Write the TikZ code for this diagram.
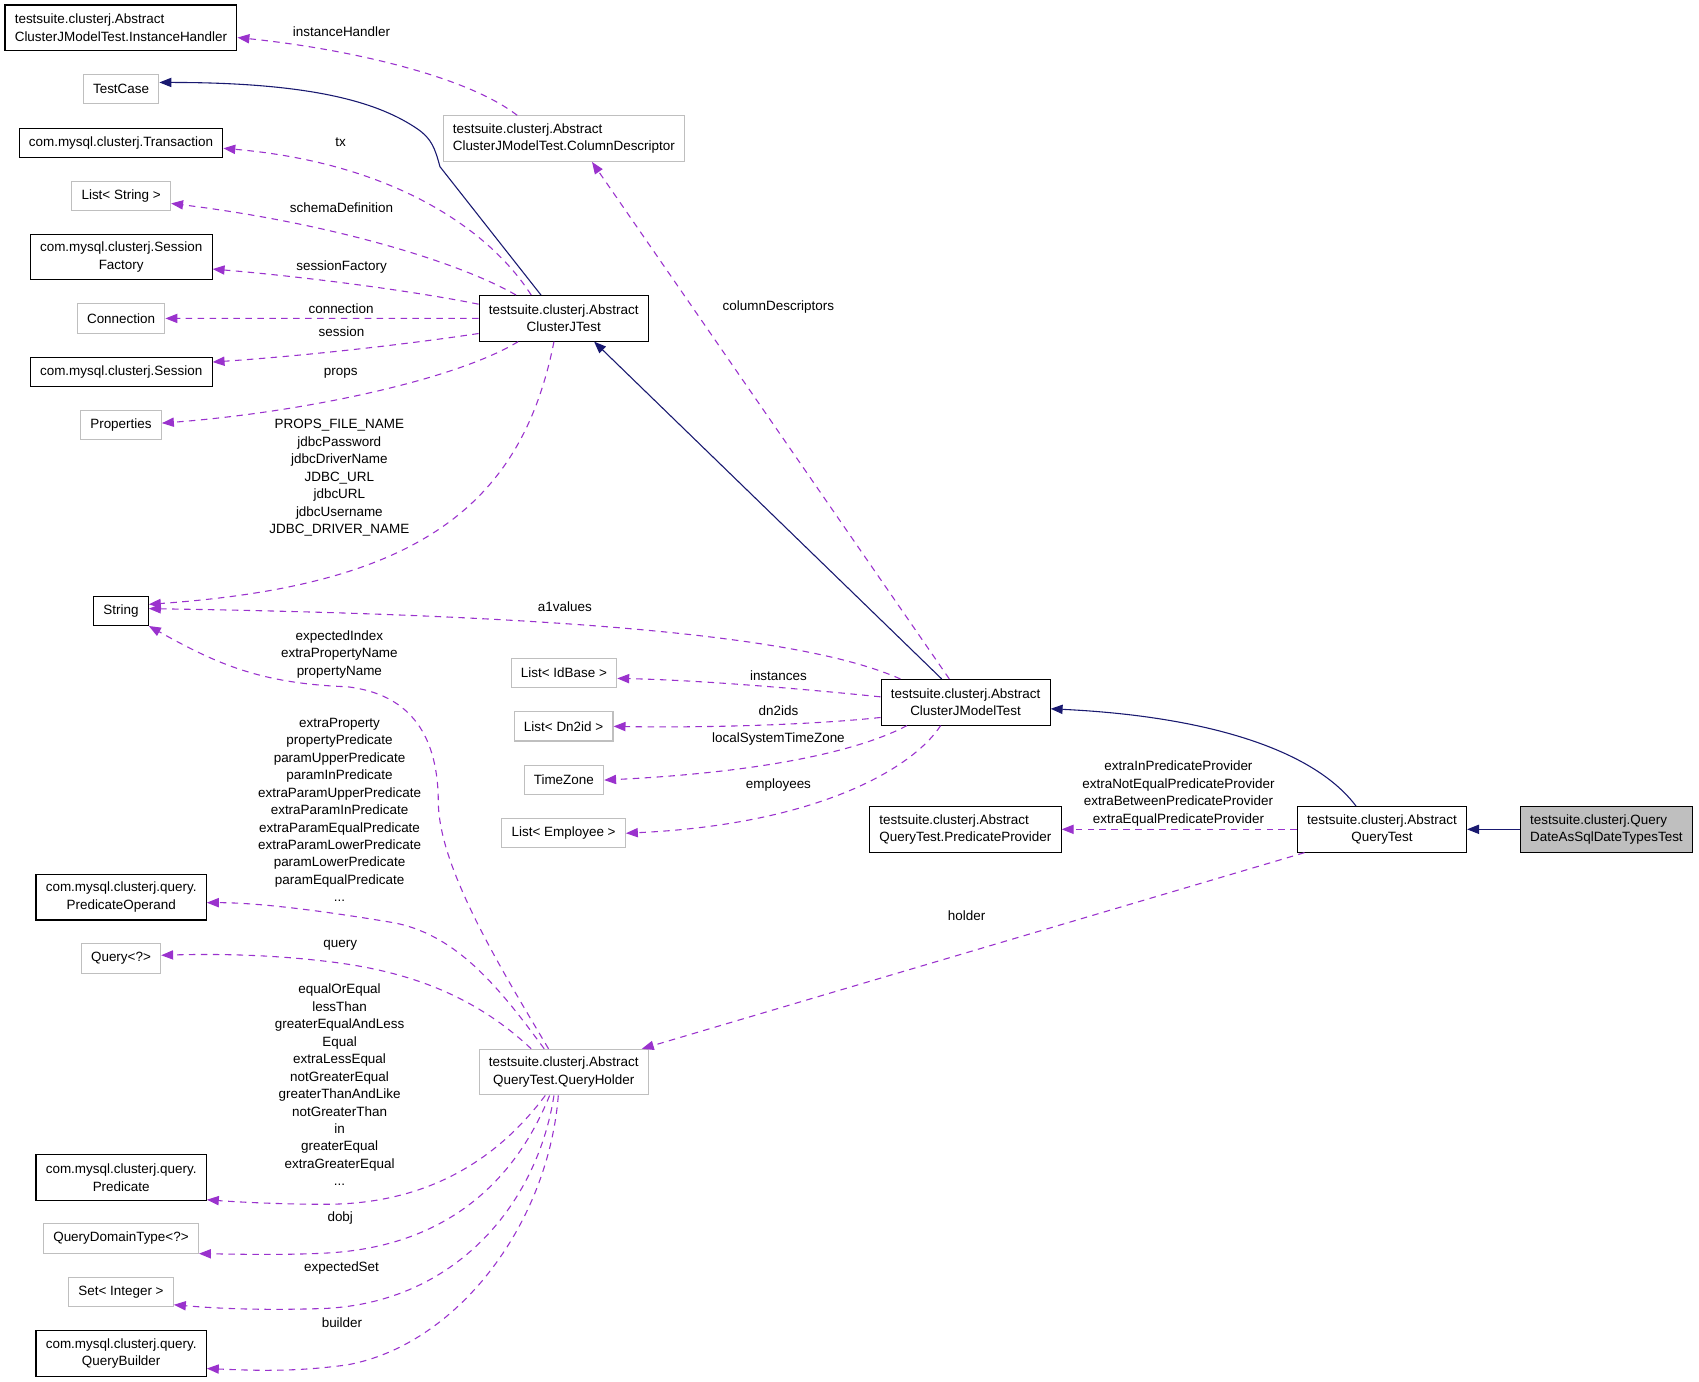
\documentclass[tikz,border=0pt]{standalone}
\usepackage{fontspec}
\setmainfont{Liberation Sans}
\usetikzlibrary{arrows.meta,calc,positioning}

\definecolor{inhblue}{HTML}{191970}
\definecolor{usepurple}{HTML}{9A32CD}
\definecolor{extgray}{HTML}{BFBFBF}

\tikzset{
  cls/.style={draw=black, line width=1pt, inner xsep=9pt, inner ysep=7pt,
    minimum height=27pt, align=center, font=\fontsize{12.4}{16.1}\selectfont},
  tall/.style={minimum height=42pt},
  extcls/.style={cls, draw=extgray},
  maincls/.style={cls, fill=extgray},
  inherit/.style={inhblue, line width=1pt, -{Triangle[length=11pt,width=8.5pt]}},
  usage/.style={usepurple, line width=1pt, dash pattern=on 6pt off 5pt,
    -{Triangle[length=11pt,width=8.5pt]}},
  lbl/.style={inner sep=0pt, align=center, font=\fontsize{12.4}{16.1}\selectfont},
}

\begin{document}
\begin{tikzpicture}[x=1pt, y=-1pt]
\useasboundingbox (0,0) rectangle (1566,1273);

% Class and its bases
\node[maincls, tall, align=left] (main) at (1480.7,764.4) {testsuite.clusterj.Query\\DateAsSqlDateTypesTest};
\node[cls, tall] (querytest) at (1273.8,764.4) {testsuite.clusterj.Abstract\\QueryTest};
\node[cls, tall] (modeltest) at (890,647.3) {testsuite.clusterj.Abstract\\ClusterJModelTest};
\node[cls, tall] (cjtest) at (519.6,293.4) {testsuite.clusterj.Abstract\\ClusterJTest};

% Nested classes
\node[cls, tall, align=left] (provider) at (889.8,764.4) {testsuite.clusterj.Abstract\\QueryTest.PredicateProvider};
\node[extcls, tall] (holder) at (519.6,988.2) {testsuite.clusterj.Abstract\\QueryTest.QueryHolder};
\node[extcls, tall, align=left] (coldesc) at (519.7,127.8) {testsuite.clusterj.Abstract\\ClusterJModelTest.ColumnDescriptor};

% Middle column
\node[extcls] (listidbase) at (519.8,620.3) {List< IdBase >};
\node[extcls] (listdn2id) at (519.5,669.5) {List< Dn2id >};
\node[extcls] (timezone) at (519.7,719) {TimeZone};
\node[extcls] (listemployee) at (519.5,768) {List< Employee >};

% Left column
\node[cls, tall, align=left] (insthandler) at (111.5,25.6) {testsuite.clusterj.Abstract\\ClusterJModelTest.InstanceHandler};
\node[extcls] (testcase) at (111.6,82) {TestCase};
\node[cls] (transaction) at (111.5,131.7) {com.mysql.clusterj.Transaction};
\node[extcls] (liststring) at (111.7,180.5) {List< String >};
\node[cls, tall] (sessfactory) at (111.7,237) {com.mysql.clusterj.Session\\Factory};
\node[extcls] (connection) at (111.6,293.5) {Connection};
\node[cls] (session) at (111.7,342.7) {com.mysql.clusterj.Session};
\node[extcls] (properties) at (111.5,392) {Properties};
\node[cls] (string) at (111.5,563) {String};
\node[cls, tall] (predoperand) at (111.7,827) {com.mysql.clusterj.query.\\PredicateOperand};
\node[extcls] (query) at (111.5,883.5) {Query<?>};
\node[cls, tall] (predicate) at (111.7,1085.3) {com.mysql.clusterj.query.\\Predicate};
\node[extcls] (qdt) at (111.5,1141.5) {QueryDomainType<?>};
\node[extcls] (setint) at (111.5,1190.6) {Set< Integer >};
\node[cls, tall] (builder) at (111.7,1247.4) {com.mysql.clusterj.query.\\QueryBuilder};

% Inheritance
\draw[inherit] (main.west) -- (querytest.east);
\draw[inherit] ([xshift=-24pt]querytest.north) .. controls (1210,690) and (1110,660) .. ([yshift=-6pt]modeltest.east);
\draw[inherit] ([xshift=-22pt]modeltest.north) -- ([xshift=28pt]cjtest.south);
\draw[inherit] ([xshift=-21pt]cjtest.north) -- (405.5,153.6) .. controls (401,137) and (398,128) .. (385,119)
  .. controls (350,95) and (290,76) .. ([yshift=6pt]testcase.east);

% Members of ClusterJTest
\draw[usage] ([xshift=-30pt]cjtest.north) .. controls (450,210) and (360,150) .. ([yshift=-5pt]transaction.east);
\draw[usage] ([xshift=-44pt]cjtest.north) .. controls (420,240) and (300,205) .. ([yshift=-7pt]liststring.east);
\draw[usage] ([yshift=13pt]cjtest.west) .. controls (380,268) and (280,255) .. ([yshift=-11pt]sessfactory.east);
\draw[usage] (cjtest.west) -- (connection.east);
\draw[usage] ([yshift=-14pt]cjtest.west) .. controls (370,318) and (280,328) .. ([yshift=9pt]session.east);
\draw[usage] ([xshift=-42pt]cjtest.south) .. controls (420,350) and (280,380) .. ([yshift=2pt]properties.east);
\draw[usage] ([xshift=-9pt]cjtest.south) .. controls (480,470) and (380,540) .. ([yshift=6pt]string.east);

% Members of ClusterJModelTest
\draw[usage] ([xshift=-43pt]coldesc.north) .. controls (430,70) and (320,45) .. ([yshift=-9pt]insthandler.east);
\draw[usage] ([xshift=-15pt]modeltest.north) -- ([xshift=26pt]coldesc.south);
\draw[usage] ([xshift=-60pt]modeltest.north) .. controls (760,595) and (600,568) .. ([yshift=2pt]string.east);
\draw[usage] ([yshift=5pt]modeltest.west) .. controls (750,636) and (650,627) .. ([yshift=-5pt]listidbase.east);
\draw[usage] ([yshift=-14pt]modeltest.west) .. controls (750,668) and (650,671) .. (listdn2id.east);
\draw[usage] ([xshift=-54pt]modeltest.south) .. controls (790,693) and (700,712) .. (timezone.east);
\draw[usage] ([xshift=-23pt]modeltest.south) .. controls (840,710) and (750,760) .. (listemployee.east);

% Members of QueryTest
\draw[usage] (querytest.west) -- (provider.east);
\draw[usage] ([xshift=7pt]querytest.south west) -- ([xshift=72pt]holder.north);

% Members of QueryHolder
\draw[usage] ([xshift=-14pt]holder.north) .. controls (460,890) and (405,800) .. (404,740)
  .. controls (404,680) and (380,640) .. (320,633) .. controls (240,630) and (200,612) .. (string.south east);
\draw[usage] ([xshift=-18pt]holder.north) .. controls (460,910) and (420,860) .. (360,850)
  .. controls (300,840) and (240,832) .. ([yshift=-5pt]predoperand.east);
\draw[usage] ([xshift=-30pt]holder.north) .. controls (440,920) and (380,895) .. (300,886)
  .. controls (250,880) and (200,879) .. ([yshift=3pt]query.east);
\draw[usage] ([xshift=-17pt]holder.south) .. controls (450,1080) and (380,1110) .. (300,1110)
  .. controls (260,1110) and (220,1108) .. ([yshift=1pt]predicate.south east);
\draw[usage] ([xshift=-13pt]holder.south) .. controls (470,1100) and (400,1150) .. (300,1155)
  .. controls (260,1157) and (220,1156) .. (qdt.south east);
\draw[usage] ([xshift=-9pt]holder.south) .. controls (495,1110) and (420,1200) .. (300,1206)
  .. controls (240,1208) and (200,1206) .. ([yshift=2pt]setint.south east);
\draw[usage] ([xshift=-5pt]holder.south) .. controls (505,1130) and (420,1240) .. (320,1258)
  .. controls (270,1265) and (230,1263) .. ([yshift=-14pt]builder.east);

% Edge labels
\node[lbl] (l-insthandler) at (314.8,29.2) {instanceHandler};
\node[lbl] (l-tx) at (314,131.5) {tx};
\node[lbl] (l-schema) at (314.8,191) {schemaDefinition};
\node[lbl] (l-sessfactory) at (314.8,245.8) {sessionFactory};
\node[lbl] (l-connection) at (314.4,284.5) {connection};
\node[lbl] (l-session) at (314.8,305.7) {session};
\node[lbl] (l-props) at (314,344) {props};
\node[lbl] (l-jdbc) at (312.8,440.6) {PROPS\_FILE\_NAME\\jdbcPassword\\jdbcDriverName\\JDBC\_URL\\jdbcURL\\jdbcUsername\\JDBC\_DRIVER\_NAME};
\node[lbl] (l-coldesc) at (717.5,283.3) {columnDescriptors};
\node[lbl] (l-a1values) at (520.6,559.2) {a1values};
\node[lbl] (l-propname) at (312.8,603) {expectedIndex\\extraPropertyName\\propertyName};
\node[lbl] (l-instances) at (717.5,622.8) {instances};
\node[lbl] (l-dn2ids) at (717.5,655) {dn2ids};
\node[lbl] (l-timezone) at (717.5,681.4) {localSystemTimeZone};
\node[lbl] (l-employees) at (717.5,723.5) {employees};
\node[lbl] (l-provider) at (1086.2,731.5) {extraInPredicateProvider\\extraNotEqualPredicateProvider\\extraBetweenPredicateProvider\\extraEqualPredicateProvider};
\node[lbl] (l-holder) at (891,843.9) {holder};
\node[lbl] (l-predoperand) at (313,746.5) {extraProperty\\propertyPredicate\\paramUpperPredicate\\paramInPredicate\\extraParamUpperPredicate\\extraParamInPredicate\\extraParamEqualPredicate\\extraParamLowerPredicate\\paramLowerPredicate\\paramEqualPredicate\\...};
\node[lbl] (l-query) at (313.6,871) {query};
\node[lbl] (l-predicate) at (313,1000) {equalOrEqual\\lessThan\\greaterEqualAndLess\\Equal\\extraLessEqual\\notGreaterEqual\\greaterThanAndLike\\notGreaterThan\\in\\greaterEqual\\extraGreaterEqual\\...};
\node[lbl] (l-dobj) at (313.6,1123) {dobj};
\node[lbl] (l-expectedset) at (314.8,1168.4) {expectedSet};
\node[lbl] (l-builder) at (315.2,1219) {builder};
\end{tikzpicture}
\end{document}
